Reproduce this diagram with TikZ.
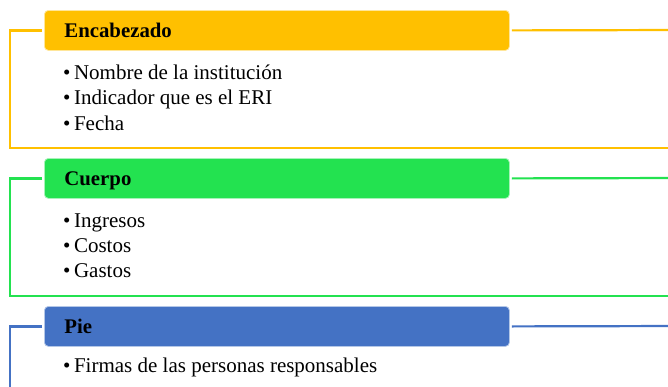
\documentclass[tikz,border=0pt]{standalone}
\usepackage{fontspec}
\setmainfont{Liberation Serif}
\definecolor{encyellow}{HTML}{FFC000}
\definecolor{cuegreen}{HTML}{23E250}
\definecolor{pieblue}{HTML}{4472C4}
\begin{document}
\begin{tikzpicture}[x=1pt,y=-1pt,
    head/.style={anchor=north west, rounded corners=4pt, draw=white!60!#1, fill=#1, line width=0.8pt,
        minimum width=465pt, minimum height=40pt, text width=425pt, inner xsep=20pt, align=left,
        text height=14pt, text depth=0pt, font=\fontsize{20.8}{25}\selectfont\bfseries},
    item/.style={anchor=base west, inner sep=0pt, font=\fontsize{21}{25}\selectfont},
    frame/.style={draw=#1, line width=2.2pt}]
        \clip (0,0) rectangle (668,386);
        % Encabezado
        \node [head=encyellow] (enc) at (44,10) {Encabezado};
        \foreach \t [count=\i] in {Nombre de la instituci\'on, Indicador que es el ERI, Fecha}
            \node [item] (enc-\i) at (63,79+25.5*\i-25.5) {\textbullet\,\t};
        \draw [frame=encyellow, shorten <=2pt] (enc.west) -| (10,148) -- (680,148);
        \draw [frame=encyellow, shorten <=2pt] (enc.east) -- (680,30);
        % Cuerpo
        \node [head=cuegreen] (cue) at (44,158) {Cuerpo};
        \foreach \t [count=\i] in {Ingresos, Costos, Gastos}
            \node [item] (cue-\i) at (63,227+25*\i-25) {\textbullet\,\t};
        \draw [frame=cuegreen, shorten <=2pt] (cue.west) -| (10,296) -- (680,296);
        \draw [frame=cuegreen, shorten <=2pt] (cue.east) -- (680,178);
        % Pie
        \node [head=pieblue] (pie) at (44,306) {Pie};
        \node [item] (pie-1) at (63,372) {\textbullet\,Firmas de las personas responsables};
        \draw [frame=pieblue, shorten <=2pt] (pie.west) -| (10,400);
        \draw [frame=pieblue, shorten <=2pt] (pie.east) -- (680,326);
\end{tikzpicture}
\end{document}
